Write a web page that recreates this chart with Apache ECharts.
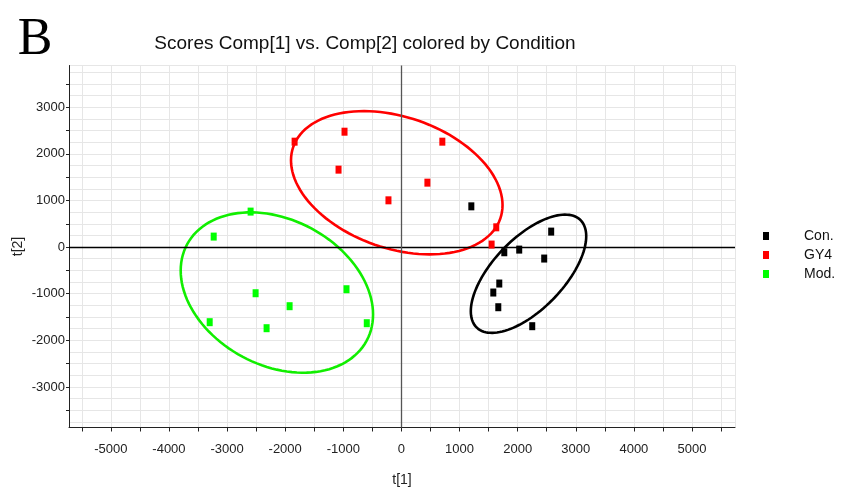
<!DOCTYPE html>
<html>
<head>
<meta charset="utf-8">
<script src="https://cdn.jsdelivr.net/npm/echarts@6/dist/echarts.min.js"></script>
<style>
html,body{margin:0;padding:0;background:#fff;}
#chart{width:850px;height:493px;}
</style>
</head>
<body>
<div id="chart"></div>
<script>
// ---- data ----
const groupNames = ['Con.', 'GY4', 'Mod.'];
const conPoints = [[1203, 874], [2577, 332], [1770, -111], [2027, -54], [2457, -246], [1684, -782], [1581, -975], [1667, -1290], [2251, -1697]];
const gy4Points = [[-1838, 2261], [-979, 2475], [704, 2261], [-1082, 1661], [447, 1382], [-223, 1003], [1632, 424], [1552, 54]];
const modPoints = [[-2595, 761], [-3230, 225], [-2509, -990], [-1924, -1268], [-945, -904], [-3299, -1611], [-2320, -1740], [-596, -1633]];
// confidence ellipses: centre and two conjugate semi-diameters (data units)
const ellipseCenters = [[2187, -572], [-80, 1380], [-2143, -975]];
const ellipseU = [[993, 804], [1820, -480], [1655, -471]];
const ellipseV = [[0, 981], [0, 1460], [0, 1654]];
const xRange = [-5720, 5740];
const yRange = [-3870, 3895];

const colors = ['#000000', '#ff0000', '#00ff00'];
const ellipseColors = ['#000000', '#ff0000', '#11ee00'];
const chart = echarts.init(document.getElementById('chart'), null, {renderer: 'canvas'});
const FONT = '"Liberation Sans", Arial, sans-serif';

function fmt(v) { return (Math.round(v) % 1000 === 0 && Math.abs(Math.round(v) - v) < 1e-6) ? String(Math.round(v)) : ''; }

const scatterBase = {
  type: 'scatter', symbol: 'rect', symbolSize: [6, 8], z: 5,
  emphasis: {disabled: true}
};

const option = {
  backgroundColor: '#ffffff',
  animation: false,
  graphic: [
    {type: 'text', x: 35, y: 40, style: {text: 'B', align: 'center', verticalAlign: 'middle', font: '52px "Liberation Serif", "Times New Roman", serif', fill: '#000'}},
    {type: 'text', x: 365, y: 44, style: {text: 'Scores Comp[1] vs. Comp[2] colored by Condition', align: 'center', verticalAlign: 'middle', font: '19px ' + FONT, fill: '#111'}}
  ],
  legend: {
    orient: 'vertical', left: 758, top: 224,
    data: groupNames, icon: 'rect', itemWidth: 6, itemHeight: 8, itemGap: 5,
    itemStyle: {opacity: 1},
    textStyle: {fontFamily: FONT, fontSize: 14, color: '#111', padding: [0, 0, 0, 30], lineHeight: 14}
  },
  grid: {left: 69, right: 115, top: 65.5, bottom: 65.5, containLabel: false},
  xAxis: {
    type: 'value', min: xRange[0], max: xRange[1], splitNumber: 23,
    name: 't[1]', nameLocation: 'middle', nameGap: 46, nameMoveOverlap: false,
    nameTextStyle: {fontFamily: FONT, fontSize: 14, color: '#222'},
    axisLine: {onZero: false, lineStyle: {color: '#222', width: 1}},
    axisTick: {show: true, length: 4, lineStyle: {color: '#222'}},
    axisLabel: {formatter: fmt, fontFamily: FONT, fontSize: 13, color: '#222', margin: 15, showMinLabel: false, showMaxLabel: false},
    splitLine: {show: true, lineStyle: {color: '#e6e6e6', width: 1}}
  },
  yAxis: {
    type: 'value', min: yRange[0], max: yRange[1], splitNumber: 16,
    name: 't[2]', nameLocation: 'middle', nameGap: 44, nameMoveOverlap: false,
    nameTextStyle: {fontFamily: FONT, fontSize: 14, color: '#222'},
    axisLine: {onZero: false, lineStyle: {color: '#222', width: 1}},
    axisTick: {show: true, length: 3, lineStyle: {color: '#222'}},
    axisLabel: {formatter: fmt, fontFamily: FONT, fontSize: 13, color: '#222', margin: 4, showMinLabel: false, showMaxLabel: false},
    splitLine: {show: true, lineStyle: {color: '#e6e6e6', width: 1}},
    minorSplitLine: {show: true, lineStyle: {color: '#e6e6e6', width: 1}},
    minorTick: {show: false, splitNumber: 2}
  },
  series: [
    {
      type: 'custom', name: 'ellipses', silent: true, z: 3, clip: false,
      data: ellipseCenters,
      renderItem: function (params, api) {
        const i = params.dataIndex;
        const c = ellipseCenters[i], u = ellipseU[i], v = ellipseV[i];
        const pts = [];
        const N = 120;
        for (let k = 0; k < N; k++) {
          const t = 2 * Math.PI * k / N;
          pts.push(api.coord([c[0] + u[0] * Math.cos(t) + v[0] * Math.sin(t), c[1] + u[1] * Math.cos(t) + v[1] * Math.sin(t)]));
        }
        return {type: 'polygon', shape: {points: pts}, style: {fill: 'none', stroke: ellipseColors[i], lineWidth: 2.6}};
      },
      markLine: {
        silent: true, symbol: ['none', 'none'], label: {show: false}, animation: false,
        data: [
          {yAxis: 0, lineStyle: {color: '#000', width: 1.3, type: 'solid'}},
          {xAxis: 0, lineStyle: {color: '#555', width: 1.3, type: 'solid'}}
        ]
      }
    },
    Object.assign({}, scatterBase, {name: groupNames[0], data: conPoints, itemStyle: {color: colors[0], opacity: 1}}),
    Object.assign({}, scatterBase, {name: groupNames[1], data: gy4Points, itemStyle: {color: colors[1], opacity: 1}}),
    Object.assign({}, scatterBase, {name: groupNames[2], data: modPoints, itemStyle: {color: colors[2], opacity: 1}})
  ]
};
chart.setOption(option);
</script>
</body>
</html>
